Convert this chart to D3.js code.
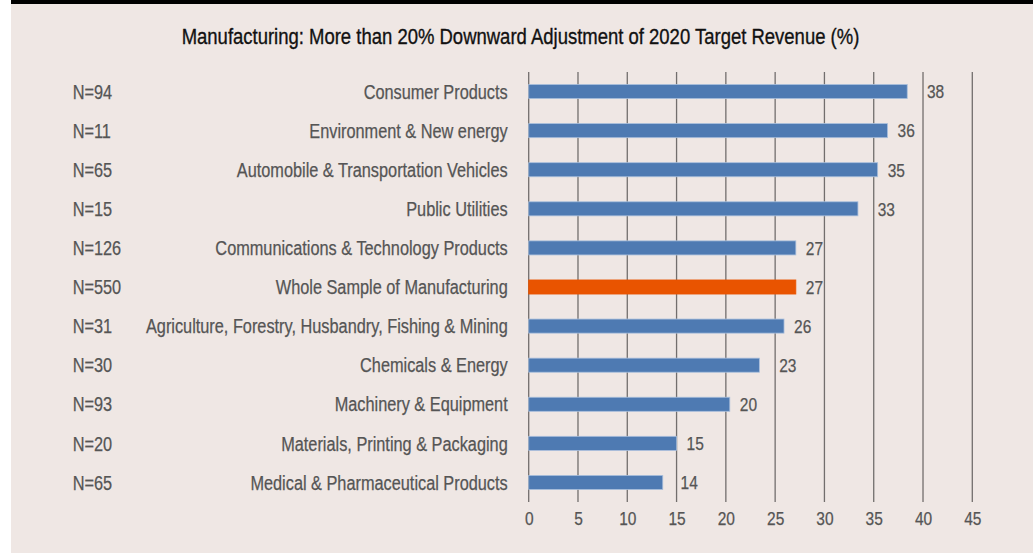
<!DOCTYPE html>
<html>
<head>
<meta charset="utf-8">
<script src="https://cdn.jsdelivr.net/npm/d3@7"></script>
<style>
  html, body { margin: 0; padding: 0; background: #ffffff; }
  svg text { font-family: "Liberation Sans", Arial, sans-serif; }
</style>
</head>
<body>
<div class="container"></div>
<script>
const title = 'Manufacturing: More than 20% Downward Adjustment of 2020 Target Revenue (%)';

const categories = [
  'Consumer Products',
  'Environment & New energy',
  'Automobile & Transportation Vehicles',
  'Public Utilities',
  'Communications & Technology Products',
  'Whole Sample of Manufacturing',
  'Agriculture, Forestry, Husbandry, Fishing & Mining',
  'Chemicals & Energy',
  'Machinery & Equipment',
  'Materials, Printing & Packaging',
  'Medical & Pharmaceutical Products'
];
const sampleSizes = [94, 11, 65, 15, 126, 550, 31, 30, 93, 20, 65];
const values = [38.4, 36.4, 35.4, 33.4, 27.1, 27.1, 25.9, 23.4, 20.4, 15.0, 13.6];
const valueLabels = [38, 36, 35, 33, 27, 27, 26, 23, 20, 15, 14];
const highlight = 'Whole Sample of Manufacturing';
const xTicks = [0, 5, 10, 15, 20, 25, 30, 35, 40, 45];

const W = 1033, H = 553;
const narrow = 0.815; // squeeze Liberation Sans to a condensed look

const svg = d3.select('.container')
              .append('svg')
              .attr('width', W)
              .attr('height', H)
              .style('display', 'block');

// panel background + dark top rule
svg.append('rect')
   .attr('x', 11).attr('y', 0)
   .attr('width', W - 11).attr('height', H)
   .attr('fill', '#efe7e4');
svg.append('rect')
   .attr('x', 11).attr('y', 0)
   .attr('width', W - 11).attr('height', 4)
   .attr('fill', '#000');

// title
svg.append('text')
   .attr('class', 'squeeze')
   .attr('data-k', 0.84)
   .attr('x', 520.5)
   .attr('y', 44)
   .attr('text-anchor', 'middle')
   .attr('fill', '#111')
   .style('font-size', '22px')
   .style('stroke', '#111')
   .style('stroke-width', '0.35px')
   .text(title);

const xScale = d3.scaleLinear()
                 .domain([0, 45])
                 .range([528.7, 972.3]);

const yScale = d3.scaleBand()
                 .domain(categories)
                 .range([72, 502])
                 .paddingInner(0.64)
                 .paddingOuter(0.32);

// vertical gridlines
svg.append('g')
   .selectAll('line')
   .data(xTicks)
   .enter()
   .append('line')
   .attr('x1', d => xScale(d))
   .attr('x2', d => xScale(d))
   .attr('y1', 72)
   .attr('y2', 502)
   .attr('stroke', '#726e6d')
   .attr('stroke-width', 1.3);

// x axis tick labels
const xAxis = d3.axisBottom(xScale)
                .tickValues(xTicks)
                .tickSize(0)
                .tickPadding(10)
                .tickFormat(d3.format('d'));
const gx = svg.append('g')
   .attr('transform', 'translate(0,502)')
   .call(xAxis);
gx.select('.domain').remove();
gx.selectAll('text')
  .attr('class', 'squeeze')
  .attr('fill', '#555')
  .style('font-size', '19px')
  .style('font-family', '"Liberation Sans", Arial, sans-serif');

// category labels
const yAxis = d3.axisLeft(yScale).tickSize(0).tickPadding(21);
const gy = svg.append('g')
   .attr('transform', 'translate(528.7,0)')
   .call(yAxis);
gy.select('.domain').remove();
gy.selectAll('text')
  .attr('class', 'squeeze')
  .attr('fill', '#555')
  .attr('dy', '0.36em')
  .style('font-size', '20px')
  .style('font-family', '"Liberation Sans", Arial, sans-serif');

// N= labels
svg.append('g')
   .selectAll('text')
   .data(categories)
   .enter()
   .append('text')
   .attr('class', 'squeeze')
   .attr('x', 72.7)
   .attr('y', d => yScale(d) + yScale.bandwidth() / 2)
   .attr('dy', '0.36em')
   .attr('fill', '#555')
   .style('font-size', '20px')
   .text((d, i) => 'N=' + sampleSizes[i]);

// bars
svg.append('g')
   .selectAll('rect')
   .data(categories)
   .enter()
   .append('rect')
   .attr('x', xScale(0))
   .attr('y', d => yScale(d))
   .attr('width', (d, i) => xScale(values[i]) - xScale(0))
   .attr('height', yScale.bandwidth())
   .attr('fill', d => d === highlight ? '#e95400' : '#4e7ab2')
   .attr('stroke', d => d === highlight ? '#e95400' : '#a9bfdc')
   .attr('stroke-width', 0.8);

// value labels
const labels = svg.append('g')
   .selectAll('text')
   .data(categories)
   .enter()
   .append('text')
   .attr('class', 'squeeze')
   .attr('y', d => yScale(d) + yScale.bandwidth() / 2)
   .attr('dy', '0.36em')
   .attr('fill', '#555')
   .style('font-size', '19px')
   .text((d, i) => valueLabels[i]);

// grey labels get a hair of stroke so they read a little heavier
svg.selectAll('text.squeeze')
   .filter(function() { return d3.select(this).attr('fill') === '#555'; })
   .style('stroke', '#555')
   .style('stroke-width', '0.25px');

// condense every text horizontally
svg.selectAll('text.squeeze').each(function() {
  const k = +(this.getAttribute('data-k') || narrow);
  const len = this.getComputedTextLength();
  d3.select(this)
    .attr('textLength', len * k)
    .attr('lengthAdjust', 'spacingAndGlyphs');
});

// place value labels after the bar, nudged past a gridline if they would sit on one
const gridPx = xTicks.map(t => xScale(t));
labels.attr('x', function(d, i) {
  const end = xScale(values[i]);
  let x = end + 10;
  const w = this.getComputedTextLength() * narrow;
  gridPx.forEach(g => {
    if (g > end + 1 && g > x - 3 && g < x + w + 1) x = g + 4;
  });
  return x;
});
</script>
</body>
</html>
